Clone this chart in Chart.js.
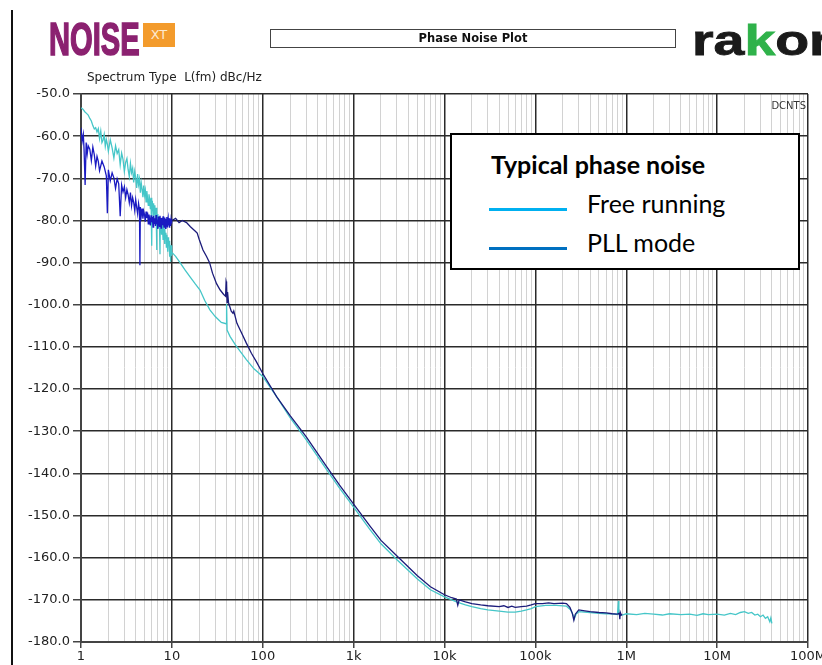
<!DOCTYPE html>
<html>
<head>
<meta charset="utf-8">
<script src="https://cdn.jsdelivr.net/npm/chart.js@4/dist/chart.umd.min.js"></script>
<style>
  body { margin: 0; background: #fff; }
  #wrap { position: relative; width: 822px; height: 665px; overflow: hidden; background: #fff; }
  #chart { position: absolute; left: 0; top: 0; }
  .abs { position: absolute; white-space: nowrap; }
  #edge { left: 11px; top: 10px; width: 2px; height: 655px; background: #111; }
  #noise { left: 49px; top: 11px; font: bold 47px "Liberation Sans", sans-serif; color: #8b2170; transform: scaleX(0.62); transform-origin: left top; -webkit-text-stroke: 1.6px #8b2170; }
  #xt { left: 143px; top: 23px; width: 32px; height: 24px; background: #f39b2c; color: #fde9cf; font: 13px "DejaVu Sans", sans-serif; text-align: center; line-height: 24px; }
  #subtitle { left: 87px; top: 70px; font: 12px "DejaVu Sans", sans-serif; color: #222; }
  #titlebox { left: 270px; top: 29px; width: 404px; height: 17px; border: 1.5px solid #444; font: bold 11.5px "DejaVu Sans", sans-serif; color: #111; text-align: center; line-height: 17px; }
  #rakon { left: 692px; top: 17px; font: 900 42px "Liberation Sans", sans-serif; color: #1a1a1a; transform: scaleX(1.32); transform-origin: left top; -webkit-text-stroke: 0.8px #1a1a1a; }
  #rakon .k { color: #2fb24a; -webkit-text-stroke: 0.8px #2fb24a; }
  #dcnts { right: 16px; top: 100px; font: 10px "DejaVu Sans", sans-serif; color: #333; }
  #legend { left: 450px; top: 133px; width: 346px; height: 133px; border: 2px solid #000; background: #fff; }
  #legend .title { position: absolute; left: 39px; top: 14px; font: bold 25px Lato, sans-serif; color: #000; }
  #legend .item { position: absolute; left: 135px; font: 25px Lato, sans-serif; color: #000; }
  #legend .swatch { position: absolute; left: 37px; width: 78px; height: 3px; }
</style>
</head>
<body>
<div id="wrap">
  <canvas id="chart" width="822" height="665"></canvas>
  <div class="abs" id="edge"></div>
  <div class="abs" id="noise">NOISE</div>
  <div class="abs" id="xt">XT</div>
  <div class="abs" id="subtitle">Spectrum Type&nbsp; L(fm) dBc/Hz</div>
  <div class="abs" id="titlebox">Phase Noise Plot</div>
  <div class="abs" id="rakon">ra<span class="k">k</span>on</div>
  <div class="abs" id="dcnts">DCNTS</div>
  <div class="abs" id="legend"></div>
</div>
<script>
// tick labels
const decades = [1, 10, 100, 1e3, 1e4, 1e5, 1e6, 1e7, 1e8];
const decadeLabels = ['1', '10', '100', '1k', '10k', '100k', '1M', '10M', '100M'];
const yTicks = [-180, -170, -160, -150, -140, -130, -120, -110, -100, -90, -80, -70, -60, -50];

// free running (Hz, dBc/Hz)
const freeFreq = [
  1.00, 1.05, 1.10, 1.15, 1.20, 1.25, 1.30, 1.35, 1.40, 1.45,
  1.50, 1.55, 1.60, 1.65, 1.70, 1.75, 1.80, 1.85, 1.90, 1.95,
  2.0, 2.1, 2.2, 2.3, 2.4, 2.5, 2.6, 2.7, 2.8, 2.9,
  3.0, 3.1, 3.2, 3.3, 3.4, 3.5, 3.6, 3.7, 3.8, 3.9,
  4.0, 4.1, 4.2, 4.3, 4.4, 4.5, 4.6, 4.7, 4.8, 4.9,
  5.0, 5.1, 5.2, 5.3, 5.4, 5.5, 5.6, 5.7, 5.8, 5.9,
  6.0, 6.05, 6.1, 6.2, 6.3, 6.4, 6.5, 6.6, 6.7, 6.8,
  6.85, 6.9, 7.0, 7.1, 7.2, 7.3, 7.4, 7.45, 7.5, 7.6,
  7.7, 7.8, 7.9, 8.0, 8.1, 8.2, 8.3, 8.4, 8.5, 8.6,
  8.7, 8.8, 8.9, 9.0, 9.1, 9.2, 9.3, 9.4, 9.5, 9.6,
  9.7, 9.8, 9.9, 10,
  11, 12.3, 14, 16, 18, 20.4, 23, 26.2, 30, 35, 39.5, 40, 40.5, 43.6, 50, 66, 80, 100, 142,
  200, 300, 500, 700, 1000, 1500, 2000, 3000, 5000, 7000, 10000, 12000, 14000, 17000, 20000, 25000, 30000, 40000,
  50000, 60000, 70000, 80000, 90000, 100000, 130000, 170000, 220000, 245000, 260000, 268000, 280000, 300000,
  400000, 500000, 600000, 700000, 800000, 820000, 830000, 900000, 1e6, 1.3e6, 1.6e6, 2e6, 2.5e6, 3e6, 4e6, 5e6,
  6e6, 7e6, 8e6, 1e7, 1.2e7, 1.4e7, 1.6e7, 1.8e7, 2.0e7, 2.2e7, 2.4e7, 2.6e7, 2.8e7, 3.0e7, 3.2e7, 3.4e7, 3.6e7,
  3.8e7, 3.9e7, 4.0e7
];
const freeDb = [
  -53.3, -53.6, -54.2, -54.6, -55.0, -55.8, -56.4, -57.5, -58.3, -58.0,
  -59.0, -58.2, -60.6, -58.8, -61.5, -60.9, -59.6, -62.4, -60.8, -61.9,
  -63.6, -60.9, -62.8, -65.2, -62.3, -64.1, -63.2, -66.8, -64.0, -65.5,
  -68.4, -66.2, -65.3, -67.9, -69.6, -66.5, -68.7, -67.6, -71.0, -68.4,
  -69.9, -72.3, -69.0, -71.5, -70.2, -73.4, -71.1, -72.6, -74.5, -71.7,
  -73.9, -72.8, -75.6, -73.0, -74.7, -76.4, -73.8, -75.1, -77.3, -74.6,
  -86.0, -75.3, -77.8, -75.9, -78.9, -76.4, -77.6, -80.2, -77.0, -87.0,
  -78.1, -80.6, -78.5, -81.7, -79.0, -80.3, -88.0, -79.4, -82.6, -80.1,
  -83.4, -80.7, -82.1, -84.5, -81.2, -83.0, -85.6, -82.0, -84.2, -82.9,
  -86.3, -83.4, -85.1, -87.4, -84.0, -86.0, -84.8, -88.6, -85.3, -87.2,
  -89.8, -85.9, -88.4, -87.5,
  -88.5, -90.0, -91.8, -93.5, -95.0, -96.5, -99.0, -101.2, -102.8, -104.2, -104.5, -99.8, -106.0, -107.5, -109.5, -113.0, -115.2, -117.0, -121.8,
  -126.8, -132.0, -139.0, -143.5, -148.0, -153.2, -156.7, -160.5, -165.0, -167.6, -169.3, -170.0, -170.6, -171.2, -171.6, -172.1, -172.4, -172.7,
  -172.9, -172.9, -172.7, -172.4, -172.1, -171.6, -171.3, -171.3, -171.5, -172.4, -173.6, -174.5, -173.4, -172.8,
  -173.0, -173.2, -173.3, -173.3, -173.5, -170.3, -173.4, -173.6, -173.3, -173.5, -173.2, -173.4, -173.6, -173.3, -173.5, -173.4,
  -173.7, -173.3, -173.5, -173.4, -173.6, -173.2, -173.5, -173.0, -172.8, -173.2, -173.0, -173.6, -173.4, -174.0, -173.6, -174.4, -174.0,
  -175.2, -174.3, -175.6
];

// PLL mode (Hz, dBc/Hz)
const pllFreq = [
  1.00, 1.03, 1.06, 1.08, 1.11, 1.14, 1.17, 1.20, 1.25, 1.30,
  1.35, 1.40, 1.45, 1.50, 1.55, 1.60, 1.70, 1.80, 1.90, 1.95,
  2.0, 2.1, 2.2, 2.3, 2.4, 2.5, 2.6, 2.7, 2.8, 2.9,
  3.0, 3.1, 3.2, 3.3, 3.4, 3.5, 3.6, 3.7, 3.8, 3.9,
  4.0, 4.1, 4.2, 4.3, 4.4, 4.45, 4.5, 4.6, 4.7, 4.8,
  4.9, 5.0, 5.1, 5.2, 5.3, 5.4, 5.5, 5.6, 5.7, 5.8,
  5.9, 6.0, 6.1, 6.2, 6.3, 6.4, 6.5, 6.6, 6.7, 6.8,
  6.9, 7.0, 7.1, 7.2, 7.3, 7.4, 7.5, 7.6, 7.7, 7.8,
  7.9, 8.0, 8.1, 8.2, 8.3, 8.4, 8.5, 8.6, 8.7, 8.8,
  8.9, 9.0, 9.1, 9.2, 9.3, 9.4, 9.5, 9.6, 9.7, 9.8,
  9.9, 10,
  11, 12, 13, 14.5, 16, 18, 19, 20, 22, 24, 26, 28, 31, 34, 37, 39, 39.5, 40, 40.5, 41, 42, 45, 47, 48, 52, 58, 66, 75, 85, 100, 142,
  200, 300, 500, 700, 1000, 1500, 2000, 3000, 5000, 7000, 10000, 12000, 13500, 14000, 14500, 17000, 20000, 25000, 30000,
  40000, 45000, 50000, 55000, 60000, 70000, 80000, 90000, 100000, 120000, 140000, 160000, 200000, 220000, 240000,
  255000, 265000, 275000, 300000, 350000, 400000, 500000, 600000, 700000, 800000, 840000, 850000, 860000, 880000, 900000
];
const pllDb = [
  -58.0, -61.2, -59.6, -63.0, -71.6, -61.5, -64.2, -62.3, -63.1, -65.8,
  -62.6, -64.4, -67.1, -64.8, -66.0, -68.2, -65.9, -67.3, -69.4, -78.3,
  -68.0, -70.6, -68.7, -69.9, -72.4, -70.1, -71.3, -79.0, -71.6, -73.2,
  -72.0, -74.6, -72.7, -73.9, -75.8, -73.4, -76.5, -74.6, -75.7, -77.6,
  -75.1, -76.9, -78.4, -76.0, -77.5, -90.6, -76.8, -78.9, -77.2, -79.6,
  -77.8, -78.6, -80.3, -77.9, -79.4, -78.1, -80.8, -78.6, -79.7, -81.2,
  -78.8, -80.4, -79.2, -81.6, -78.9, -80.7, -79.5, -81.3, -78.7, -80.9,
  -79.8, -82.0, -79.1, -80.6, -81.4, -78.9, -80.2, -81.8, -79.4, -80.5,
  -81.1, -79.0, -80.8, -81.6, -79.3, -80.4, -81.9, -79.6, -80.9, -79.2,
  -81.5, -80.1, -79.4, -81.2, -80.0, -81.7, -79.5, -80.6, -81.3, -79.8,
  -80.7, -80.0,
  -79.5, -80.5, -80.0, -80.5, -81.5, -82.5, -83.0, -84.5, -87.0, -88.5, -90.0, -92.5, -95.0, -96.5, -97.5, -98.0, -94.5, -95.0, -99.5, -97.0, -99.5, -101.5, -102.0, -101.5, -104.4, -106.5, -109.1, -111.5, -113.5, -116.3, -121.8,
  -126.3, -131.3, -138.3, -142.8, -147.3, -152.4, -155.9, -159.6, -164.2, -166.9, -168.8, -169.5, -169.8, -171.3, -170.0, -170.5, -170.9, -171.2, -171.4,
  -171.6, -171.4, -171.8, -171.5, -171.8, -171.6, -171.5, -171.2, -170.9, -170.9, -170.7, -170.9, -170.8, -170.9, -171.8,
  -173.2, -174.8, -173.4, -172.4, -172.6, -172.8, -173.0, -173.1, -173.3, -173.4, -173.2, -174.6, -173.0, -173.6, -173.4
];

const seriesNames = ['Free running', 'PLL mode'];
const legendTitle = 'Typical phase noise';

const toPoints = (fs, ds) => fs.map((f, i) => ({ x: f, y: ds[i] }));
const isDecade = v => decades.includes(v);

const config = {
  type: 'line',
  data: {
    datasets: [
      {
        label: seriesNames[1],
        data: toPoints(pllFreq, pllDb),
        borderColor: '#1b1b7a',
        borderWidth: 1.3,
        pointRadius: 0,
        order: 0,
        segment: { borderColor: ctx => ctx.p0.parsed.x < 10 ? '#1a1ac2' : undefined }
      },
      {
        label: seriesNames[0],
        data: toPoints(freeFreq, freeDb),
        borderColor: '#45c6c8',
        borderWidth: 1.3,
        pointRadius: 0,
        order: 1
      }
    ]
  },
  options: {
    responsive: false,
    animation: false,
    devicePixelRatio: 1,
    layout: { padding: { top: 94, right: 14, left: 0, bottom: 0 } },
    plugins: { legend: { display: false }, tooltip: { enabled: false } },
    scales: {
      x: {
        type: 'logarithmic',
        min: 1,
        max: 1e8,
        afterBuildTicks: scale => {
          const t = [];
          decades.forEach((d, i) => {
            t.push({ value: d });
            if (i < decades.length - 1) for (let m = 2; m <= 9; m++) t.push({ value: d * m });
          });
          scale.ticks = t;
        },
        afterFit: s => { s.height = 23; s.paddingLeft = 0; s.paddingRight = 0; },
        ticks: {
          autoSkip: false,
          maxRotation: 0,
          minRotation: 0,
          padding: 1,
          color: '#222',
          font: { family: 'DejaVu Sans', size: 13 },
          callback: v => { const i = decades.indexOf(v); return i >= 0 ? decadeLabels[i] : ''; }
        },
        grid: {
          color: ctx => ctx.tick && isDecade(ctx.tick.value) ? '#2a2a2a' : '#d2d2d2',
          lineWidth: ctx => ctx.tick && isDecade(ctx.tick.value) ? 1.5 : 1,
          tickColor: ctx => ctx.tick && isDecade(ctx.tick.value) ? '#444' : 'rgba(0,0,0,0)',
          tickLength: 6
        },
        border: { color: '#444', width: 2 }
      },
      y: {
        min: -180,
        max: -50,
        afterBuildTicks: scale => { scale.ticks = yTicks.map(v => ({ value: v })); },
        afterFit: s => { s.width = 81; s.paddingTop = 0; s.paddingBottom = 0; },
        ticks: {
          padding: 3,
          color: '#222',
          font: { family: 'DejaVu Sans', size: 13 },
          callback: v => v.toFixed(1)
        },
        grid: { color: '#2a2a2a', lineWidth: 1.5, tickColor: '#444', tickLength: 8 },
        border: { color: '#444', width: 2 }
      }
    }
  }
};

const chart = new Chart(document.getElementById('chart'), config);

// legend box built from the dataset labels and colours
const legendColors = ['#00b0f0', '#0070c0'];
const lg = document.getElementById('legend');
lg.innerHTML = '<div class="title">' + legendTitle + '</div>' +
  seriesNames.map((n, i) =>
    '<div class="swatch" style="top:' + (73 + i * 39) + 'px;background:' + legendColors[i] + '"></div>' +
    '<div class="item" style="top:' + (53 + i * 39) + 'px">' + n + '</div>'
  ).join('');
</script>
</body>
</html>
